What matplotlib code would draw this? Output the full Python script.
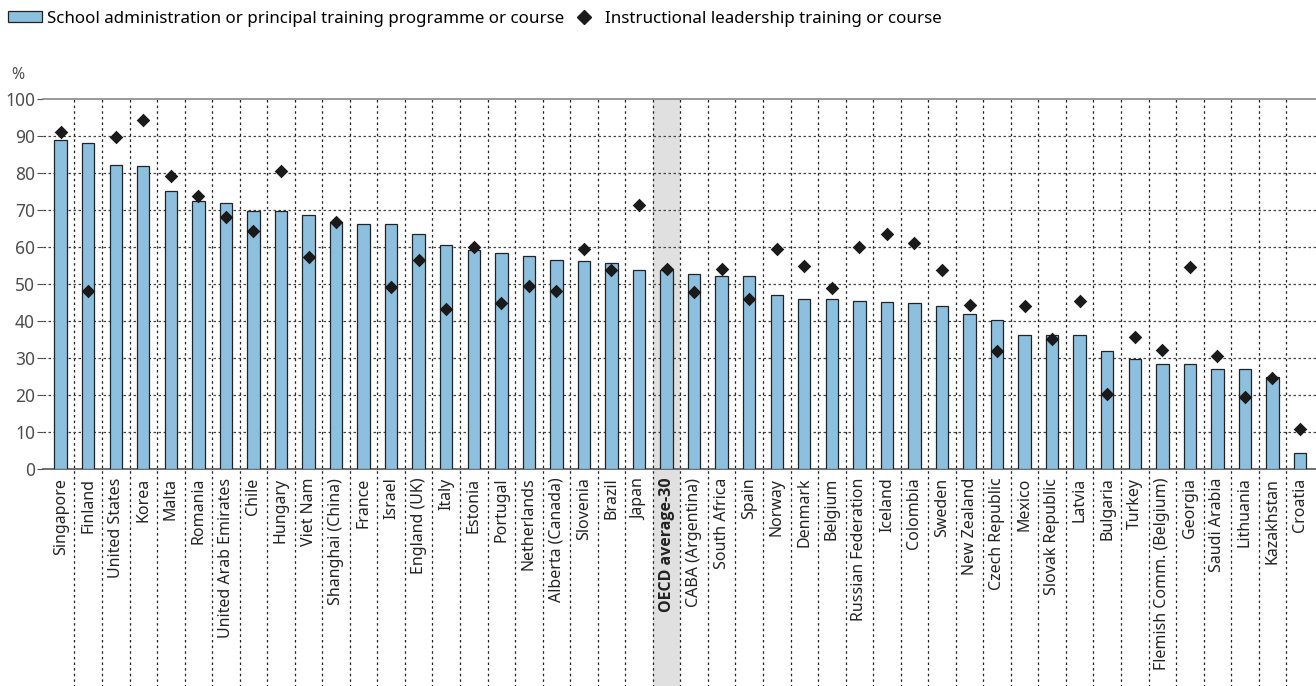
import numpy as np
import matplotlib
matplotlib.use('Agg')
import matplotlib.pyplot as plt
from matplotlib.patches import Patch
from matplotlib.lines import Line2D

plt.rcParams['font.family'] = ['Noto Sans', 'DejaVu Sans']

countries = ['Singapore', 'Finland', 'United States', 'Korea', 'Malta', 'Romania',
             'United Arab Emirates', 'Chile', 'Hungary', 'Viet Nam', 'Shanghai (China)',
             'France', 'Israel', 'England (UK)', 'Italy', 'Estonia', 'Portugal',
             'Netherlands', 'Alberta (Canada)', 'Slovenia', 'Brazil', 'Japan',
             'OECD average-30', 'CABA (Argentina)', 'South Africa', 'Spain', 'Norway',
             'Denmark', 'Belgium', 'Russian Federation', 'Iceland', 'Colombia', 'Sweden',
             'New Zealand', 'Czech Republic', 'Mexico', 'Slovak Republic', 'Latvia',
             'Bulgaria', 'Turkey', 'Flemish Comm. (Belgium)', 'Georgia', 'Saudi Arabia',
             'Lithuania', 'Kazakhstan', 'Croatia']

# school administration or principal training programme or course
admin = [88.8, 88.1, 82.3, 82.0, 75.2, 72.5, 71.8, 69.7, 69.7, 68.8, 66.8,
         66.2, 66.2, 63.5, 60.6, 59.1, 58.3, 57.5, 56.4, 56.2, 55.6, 53.7,
         53.8, 52.7, 52.3, 52.1, 47.2, 46.0, 45.9, 45.5, 45.3, 44.8, 44.0,
         41.9, 40.4, 36.4, 36.4, 36.2, 32.0, 29.9, 28.5, 28.3, 27.0, 27.0,
         24.8, 4.5]

# instructional leadership training or course (None = not available)
instr = [91.1, 48.2, 89.8, 94.3, 79.2, 73.9, 68.0, 64.3, 80.5, 57.2, 66.7,
         None, 49.1, 56.4, 43.4, 60.1, 44.8, 49.6, 48.2, 59.6, 53.8, 71.3,
         54.0, 48.0, 54.2, 46.1, 59.5, 54.9, 48.9, 60.1, 63.5, 61.2, 53.7,
         44.3, 31.9, 44.0, 35.3, 45.4, 20.3, 35.6, 32.3, 54.7, 30.5, 19.6,
         24.6, 10.8]

oecd_label = 'OECD average-30'

x = np.arange(len(countries))
instr_arr = np.array([np.nan if v is None else v for v in instr])

fig = plt.figure(figsize=(13.16, 6.86), dpi=100)
ax = fig.add_axes([0.0329, 0.3159, 0.9671, 0.5398])

oecd_i = countries.index(oecd_label)
ax.axvspan(oecd_i - 0.5, oecd_i + 0.5, ymin=-0.6, ymax=1, color='#e0e0e0',
           zorder=0, clip_on=False, lw=0)

# vertical dotted separators running through the label area
for b in x[:-1] + 0.5:
    ax.axvline(b, ymin=-0.6, ymax=1, color='#222222', lw=0.9,
               linestyle=(0, (2, 2.5)), clip_on=False, zorder=1)

for yv in range(10, 100, 10):
    ax.axhline(yv, color='#444444', lw=0.9, linestyle=(0, (2, 2)), zorder=1)

ax.bar(x, admin, width=0.45, color='#8dc0de', edgecolor='#222222', lw=0.9, zorder=3)
ax.scatter(x, instr_arr, marker='D', s=48, color='#1a1a1a', zorder=4, lw=0)

ax.set_xlim(-0.63, len(countries) - 0.42)
ax.set_ylim(0, 100)
ax.set_yticks(range(0, 101, 10))
ax.tick_params(axis='y', labelsize=12.5, colors='#4d4d4d', length=4, width=0.8, pad=2)
ax.tick_params(axis='x', length=0, pad=6)
ax.set_xticks(x)
xlabels = ax.set_xticklabels(countries, rotation=90, fontsize=11.5, color='#222222')
for lbl in xlabels:
    if lbl.get_text() == oecd_label:
        lbl.set_fontfamily(['Open Sans', 'DejaVu Sans'])
        lbl.set_fontweight('bold')

for s in ['left', 'right']:
    ax.spines[s].set_visible(False)
ax.spines['top'].set_color('#888888')
ax.spines['top'].set_linewidth(1.2)
ax.spines['bottom'].set_color('#555555')
ax.spines['bottom'].set_linewidth(1.2)

fig.text(0.0085, 0.879, '%', fontsize=11.5, color='#4d4d4d', va='bottom')

handles = [Patch(facecolor='#8dc0de', edgecolor='#222222', lw=0.9),
           Line2D([], [], marker='D', color='#1a1a1a', ls='none', markersize=7)]
labels = ['School administration or principal training programme or course',
          'Instructional leadership training or course']
fig.legend(handles, labels, loc='upper left', bbox_to_anchor=(0.0, 0.997), ncol=2,
           frameon=False, fontsize=12.2, handlelength=2.0, handleheight=0.6,
           handletextpad=0.25, columnspacing=0.2, borderaxespad=0.1)

fig.savefig('out.png', dpi=100)
